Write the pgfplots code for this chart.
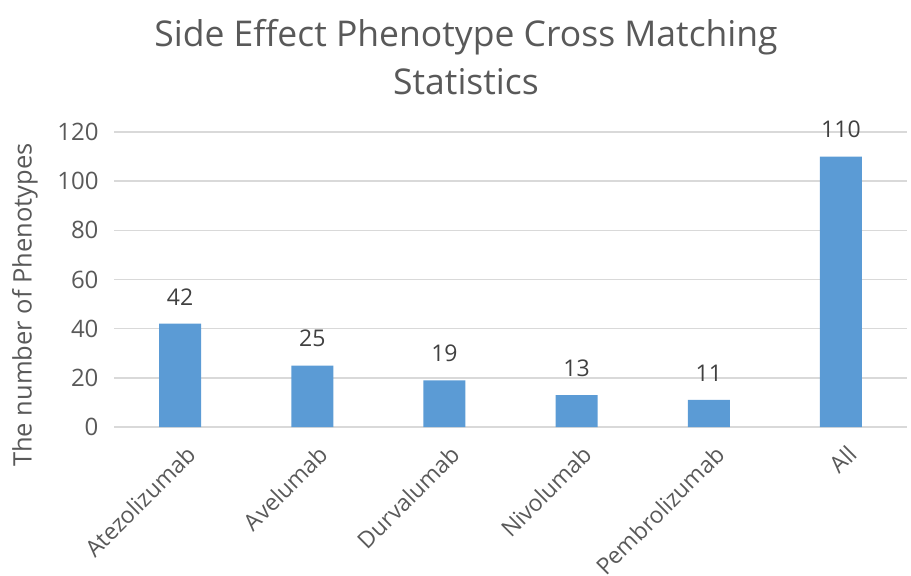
\documentclass[border=0pt]{standalone}
\usepackage{fontspec}
\setmainfont{Open Sans}
\usepackage{pgfplots}
\pgfplotsset{compat=1.18}
\definecolor{barblue}{HTML}{5B9BD5}
\definecolor{gridgray}{HTML}{D9D9D9}
\definecolor{txtgray}{HTML}{595959}
\definecolor{lblgray}{HTML}{404040}
\begin{document}
\begin{tikzpicture}[x=1pt,y=1pt]
\useasboundingbox (0,0) rectangle (911,576);
\node[text=txtgray, font=\fontsize{35.5}{48}\selectfont, align=center] at (466,519)
  {Side Effect Phenotype Cross Matching\\Statistics};
\node[text=txtgray, font=\fontsize{25.5}{30}\selectfont, rotate=90] at (25,271) {The number of Phenotypes};
\begin{axis}[
  at={(114pt,149pt)}, anchor=south west,
  scale only axis, width=793pt, height=295pt,
  xmin=-0.5, xmax=5.5, ymin=0, ymax=120,
  ytick={0,20,...,120},
  xtick=data,
  xticklabels={Atezolizumab,Avelumab,Durvalumab,Nivolumab,Pembrolizumab,All},
  ybar, bar width=42pt,
  axis line style={draw=none},
  major tick length=0pt,
  ymajorgrids, grid style={color=gridgray, line width=1.6pt},
  /pgf/number format/assume math mode=true,
  xticklabel style={xshift=5pt, yshift=-12pt, rotate=45, anchor=north east, font=\fontsize{23}{26}\selectfont, text=txtgray},
  yticklabel style={font=\fontsize{24}{28}\selectfont, text=txtgray, xshift=-12pt},
  nodes near coords,
  every node near coord/.append style={font=\fontsize{23}{26}\selectfont, text=lblgray, yshift=15pt},
]
\addplot[fill=barblue, draw=none] coordinates {(0,42) (1,25) (2,19) (3,13) (4,11) (5,110)};
\end{axis}
\end{tikzpicture}
\end{document}
